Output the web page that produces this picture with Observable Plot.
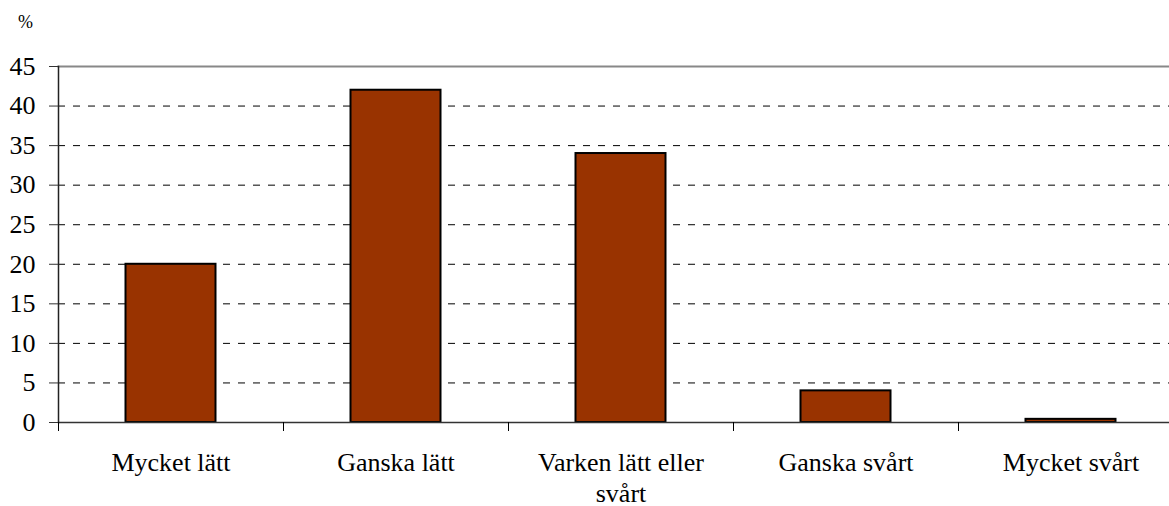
<!DOCTYPE html>
<html>
<head>
<meta charset="utf-8">
<script src="https://cdn.jsdelivr.net/npm/d3@7"></script>
<script src="https://cdn.jsdelivr.net/npm/@observablehq/plot@0.6"></script>
<style>
  html, body { margin: 0; padding: 0; background: #fff; overflow: hidden; }
  #wrap { position: relative; width: 1169px; height: 506px; }
  #unit { position: absolute; left: 18px; top: 12px; font: 18px "Liberation Serif", "Times New Roman", serif; color: #000; }
</style>
</head>
<body>
<div id="wrap"><div id="unit">%</div><div id="chart"></div></div>
<script>
const categories = ["Mycket lätt", "Ganska lätt", "Varken lätt eller\nsvårt", "Ganska svårt", "Mycket svårt"];
const values = [20, 42, 34, 4, 0.4];
const yTicks = [0, 5, 10, 15, 20, 25, 30, 35, 40, 45];
const gridTicks = [5, 10, 15, 20, 25, 30, 35, 40];

const data = categories.map((c, i) => ({category: c, value: values[i]}));

const xRange = [58, 1183];
const step = (xRange[1] - xRange[0]) / categories.length;
const font = '"Liberation Serif", "Times New Roman", serif';

const chart = Plot.plot({
  width: 1169,
  height: 506,
  marginLeft: 58,
  marginTop: 66,
  marginBottom: 84,
  marginRight: 0,
  style: {fontFamily: font, background: "#fff", overflow: "hidden"},
  x: {domain: categories, range: xRange, paddingInner: 0.6, paddingOuter: 0.3, round: false},
  y: {domain: [0, 45], range: [422, 66]},
  marks: [
    Plot.gridY(gridTicks, {stroke: "#000", strokeOpacity: 1, strokeWidth: 1, strokeDasharray: "7,8"}),
    Plot.frame({anchor: "top", stroke: "#888", strokeWidth: 2}),
    Plot.barY(data, {x: "category", y: "value", fill: "#993300", stroke: "#000", strokeWidth: 2}),
    Plot.ruleY([0], {stroke: "#333", strokeWidth: 1.5}),
    Plot.frame({anchor: "left", stroke: "#222", strokeWidth: 1.5}),
    Plot.axisY(yTicks, {tickSize: 9, tickPadding: 14, fontSize: 26, stroke: "#333", label: null, tickFormat: d => String(d)}),
    Plot.axisX(categories, {tickSize: 9, dx: -step / 2, fill: "none", stroke: "#000", label: null}),
    Plot.axisX(categories, {tickSize: 0, tickPadding: 26, fontSize: 26, lineHeight: 1.2, label: null, fill: "#000"})
  ]
});
document.getElementById("chart").appendChild(chart);
</script>
</body>
</html>
